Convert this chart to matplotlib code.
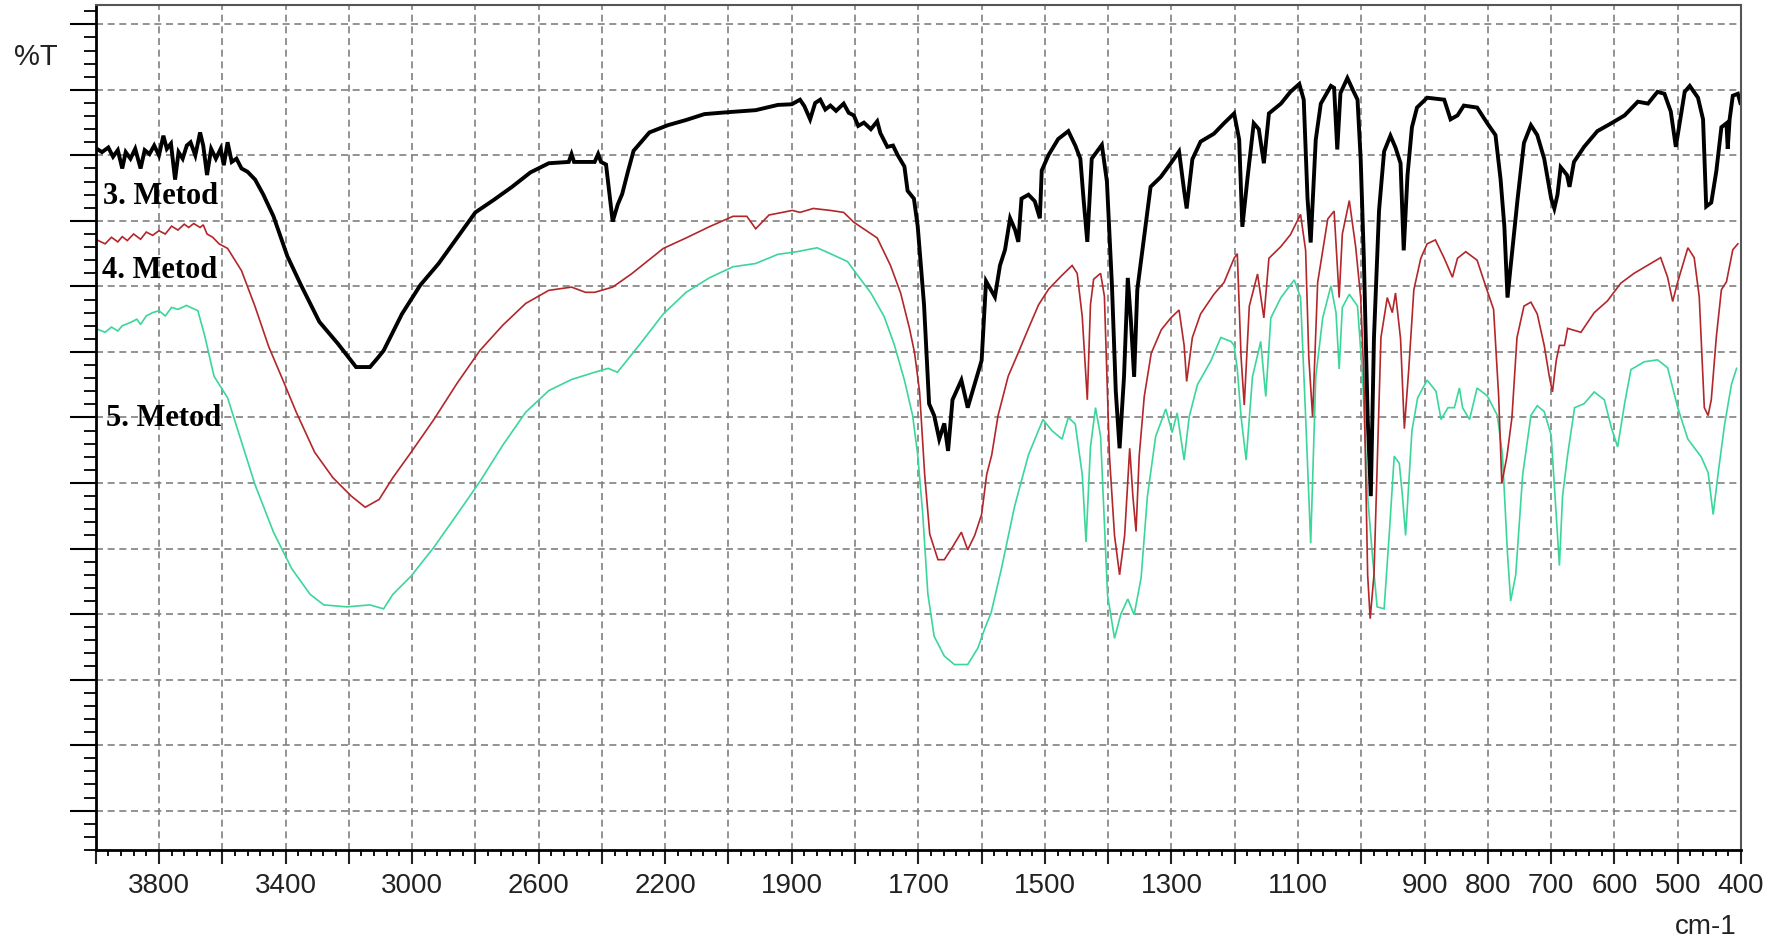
import numpy as np
import matplotlib
matplotlib.use("Agg")
import matplotlib.pyplot as plt
from matplotlib.ticker import FixedLocator

# IR spectra, (wavenumber cm-1, %T in grid units)
black_pts = [
    (3996, 101.0), (3980, 100.5), (3960, 101.2), (3945, 99.8), (3930, 100.8), (3916, 98.0),
    (3905, 100.5), (3890, 99.5), (3875, 101.0), (3858, 98.0), (3845, 100.8), (3830, 100.2),
    (3815, 101.5), (3800, 100.0), (3786, 103.0), (3775, 101.0), (3762, 101.8), (3749, 96.3),
    (3738, 100.5), (3725, 99.5), (3712, 101.5), (3700, 102.0), (3685, 100.0), (3670, 103.5),
    (3660, 101.5), (3648, 97.0), (3635, 101.0), (3620, 99.5), (3605, 101.0), (3595, 98.5),
    (3583, 102.0), (3570, 99.0), (3555, 99.5), (3539, 98.0), (3520, 97.5), (3496, 96.3),
    (3470, 94.0), (3438, 90.7), (3394, 84.6), (3351, 80.2), (3293, 74.6), (3235, 71.3),
    (3177, 67.7), (3133, 67.7), (3110, 69.0), (3090, 70.2), (3032, 75.8), (2974, 80.2),
    (2916, 83.5), (2858, 87.4), (2800, 91.3), (2742, 93.2), (2684, 95.2), (2626, 97.4),
    (2568, 98.8), (2505, 99.0), (2496, 100.2), (2488, 99.0), (2423, 99.0), (2412, 100.2),
    (2403, 99.0), (2387, 98.6), (2366, 89.9), (2350, 92.5), (2336, 94.1), (2318, 97.5),
    (2300, 100.7), (2250, 103.5), (2192, 104.6), (2134, 105.4), (2076, 106.3), (2000, 106.6),
    (1957, 106.9), (1922, 107.7), (1900, 107.8), (1887, 108.5), (1880, 107.5), (1871, 105.5),
    (1863, 108.0), (1855, 108.5), (1847, 107.0), (1839, 107.6), (1830, 106.8), (1818, 107.9),
    (1810, 106.5), (1802, 106.1), (1795, 104.5), (1786, 105.0), (1775, 104.0), (1765, 105.2),
    (1760, 103.4), (1749, 101.3), (1740, 101.5), (1733, 100.1), (1722, 98.3), (1717, 94.6),
    (1707, 93.4), (1701, 89.2), (1691, 77.2), (1683, 62.1), (1675, 60.3), (1667, 56.7),
    (1659, 59.1), (1653, 54.9), (1646, 62.7), (1632, 65.7), (1622, 61.5), (1611, 65.1),
    (1600, 68.7), (1593, 80.8), (1579, 78.4), (1571, 83.2), (1563, 85.6), (1555, 90.4),
    (1547, 88.6), (1542, 86.8), (1537, 93.4), (1526, 94.0), (1516, 93.0), (1508, 90.4),
    (1505, 97.7), (1494, 100.1), (1479, 102.5), (1463, 103.7), (1452, 101.5), (1444, 99.5),
    (1439, 93.4), (1433, 86.8), (1426, 99.5), (1410, 101.6), (1402, 96.0), (1394, 80.0),
    (1388, 64.0), (1382, 55.3), (1375, 66.2), (1369, 81.3), (1364, 74.6), (1359, 66.2),
    (1354, 79.5), (1346, 85.5), (1333, 95.2), (1317, 96.7), (1301, 98.8), (1288, 100.6),
    (1280, 94.6), (1276, 91.9), (1267, 99.4), (1254, 102.1), (1233, 103.3), (1217, 104.9),
    (1201, 106.4), (1193, 102.4), (1188, 89.1), (1180, 96.4), (1170, 104.9), (1162, 104.0),
    (1154, 98.8), (1146, 106.4), (1127, 107.9), (1112, 109.7), (1098, 110.9), (1091, 108.5),
    (1085, 93.4), (1080, 86.7), (1072, 102.4), (1064, 107.9), (1048, 110.6), (1043, 110.3),
    (1038, 100.9), (1033, 109.5), (1022, 111.8), (1012, 109.7), (1006, 108.5), (1001, 99.4),
    (996, 84.3), (990, 60.1), (985, 48.0), (980, 72.2), (972, 91.6), (964, 100.6),
    (954, 103.0), (946, 101.2), (938, 98.8), (933, 85.5), (927, 97.0), (920, 104.3),
    (912, 107.3), (896, 108.8), (869, 108.5), (859, 105.5), (848, 106.1), (838, 107.6),
    (817, 107.3), (801, 104.9), (788, 103.1), (780, 96.4), (774, 89.2), (769, 78.3),
    (764, 83.1), (753, 93.4), (743, 101.9), (732, 104.6), (722, 103.1), (711, 99.5),
    (700, 93.4), (695, 91.9), (690, 94.0), (685, 98.2), (675, 97.0), (671, 95.2),
    (664, 99.0), (648, 101.3), (627, 103.7), (605, 104.9), (584, 106.1), (563, 108.2),
    (547, 107.9), (532, 109.7), (521, 109.4), (511, 106.7), (503, 101.3), (497, 104.9),
    (489, 109.7), (481, 110.6), (468, 108.8), (460, 105.5), (455, 92.2), (447, 92.8),
    (439, 97.6), (431, 104.3), (423, 104.9), (421, 101.0), (418, 105.5), (413, 109.1),
    (405, 109.4), (401, 108.0),
]

red_pts = [
    (3996, 87.1), (3970, 86.5), (3950, 87.5), (3930, 86.8), (3916, 87.6), (3900, 87.0),
    (3880, 88.0), (3858, 87.2), (3840, 88.3), (3820, 87.8), (3800, 88.5), (3780, 88.0),
    (3760, 89.2), (3740, 88.6), (3720, 89.5), (3706, 89.0), (3690, 89.6), (3670, 89.0),
    (3660, 89.4), (3648, 88.0), (3630, 87.5), (3610, 86.5), (3583, 85.8), (3539, 82.4),
    (3496, 76.9), (3453, 70.8), (3409, 65.8), (3366, 60.8), (3308, 54.7), (3250, 50.8),
    (3192, 48.0), (3148, 46.3), (3104, 47.5), (3061, 50.8), (3003, 54.7), (2931, 59.7),
    (2858, 65.2), (2786, 70.2), (2713, 74.1), (2641, 77.4), (2568, 79.4), (2496, 79.9),
    (2452, 79.1), (2423, 79.1), (2366, 79.9), (2307, 81.9), (2206, 85.8), (2134, 87.4),
    (2061, 89.1), (1993, 90.7), (1971, 90.7), (1957, 88.8), (1936, 90.9), (1899, 91.6),
    (1887, 91.3), (1866, 91.9), (1839, 91.6), (1818, 91.3), (1802, 89.8), (1765, 87.4),
    (1744, 83.2), (1728, 79.0), (1714, 73.6), (1706, 69.9), (1698, 63.9), (1690, 51.3),
    (1682, 42.2), (1669, 38.3), (1659, 38.3), (1645, 40.4), (1632, 42.5), (1622, 39.8),
    (1611, 42.0), (1600, 45.2), (1592, 51.3), (1584, 54.3), (1574, 60.3), (1558, 66.3),
    (1542, 69.9), (1526, 73.6), (1510, 77.2), (1494, 79.6), (1473, 81.7), (1457, 83.2),
    (1449, 82.0), (1441, 75.4), (1433, 62.7), (1428, 77.2), (1423, 81.1), (1412, 82.0),
    (1406, 78.5), (1398, 54.1), (1390, 42.0), (1382, 36.0), (1374, 42.0), (1366, 55.3),
    (1361, 48.0), (1356, 42.6), (1351, 54.1), (1343, 63.2), (1332, 69.8), (1316, 73.4),
    (1301, 75.2), (1288, 76.4), (1280, 71.0), (1276, 65.5), (1267, 72.2), (1254, 75.8),
    (1233, 78.8), (1217, 80.6), (1201, 84.3), (1196, 85.0), (1190, 69.2), (1185, 61.9),
    (1177, 77.0), (1164, 81.9), (1154, 75.2), (1146, 84.3), (1127, 86.1), (1112, 87.9),
    (1096, 91.0), (1088, 85.5), (1083, 69.2), (1077, 60.1), (1069, 80.6), (1053, 90.3),
    (1043, 91.5), (1035, 78.3), (1030, 88.0), (1019, 93.1), (1009, 86.1), (1001, 78.3),
    (996, 66.2), (990, 36.0), (986, 29.3), (980, 36.0), (969, 72.2), (959, 78.3),
    (951, 76.0), (946, 79.0), (938, 72.0), (932, 58.3), (925, 67.4), (917, 79.5),
    (906, 84.3), (896, 86.5), (883, 87.1), (869, 84.3), (856, 81.4), (848, 84.3),
    (835, 85.3), (817, 84.0), (804, 80.2), (791, 76.5), (783, 63.3), (778, 50.0),
    (770, 54.0), (762, 60.0), (754, 72.2), (743, 77.0), (732, 77.6), (722, 75.8),
    (711, 71.0), (703, 66.3), (698, 63.9), (692, 68.7), (687, 71.0), (679, 71.0),
    (674, 73.6), (653, 73.0), (632, 76.0), (611, 77.8), (590, 80.5), (569, 82.0),
    (548, 83.2), (527, 84.4), (516, 81.4), (508, 77.7), (500, 80.7), (484, 85.9),
    (474, 84.4), (466, 78.4), (458, 61.5), (452, 60.3), (447, 62.7), (439, 72.3),
    (431, 79.5), (423, 80.7), (413, 85.6), (405, 86.5),
]

green_pts = [
    (3996, 73.5), (3970, 73.0), (3950, 73.8), (3930, 73.2), (3916, 74.0), (3890, 74.5),
    (3870, 75.0), (3858, 74.2), (3840, 75.5), (3820, 76.0), (3800, 76.3), (3780, 75.5),
    (3760, 76.8), (3740, 76.5), (3713, 77.1), (3700, 76.8), (3677, 76.3), (3655, 72.4),
    (3626, 66.3), (3583, 63.0), (3539, 56.3), (3496, 49.7), (3438, 42.5), (3380, 36.9),
    (3322, 33.0), (3279, 31.4), (3206, 31.1), (3133, 31.4), (3090, 30.8), (3061, 33.0),
    (3003, 35.8), (2931, 40.2), (2858, 45.2), (2786, 50.2), (2713, 55.8), (2641, 60.8),
    (2568, 64.1), (2496, 65.8), (2423, 66.9), (2380, 67.5), (2351, 66.9), (2278, 71.3),
    (2206, 75.8), (2134, 79.1), (2061, 81.3), (1993, 83.0), (1957, 83.5), (1922, 84.9),
    (1892, 85.3), (1860, 85.9), (1839, 85.0), (1812, 83.8), (1796, 81.7), (1775, 79.0),
    (1754, 75.4), (1738, 71.1), (1722, 65.7), (1709, 60.3), (1701, 54.3), (1693, 45.2),
    (1685, 33.1), (1675, 26.6), (1659, 23.6), (1643, 22.3), (1622, 22.3), (1606, 24.8),
    (1595, 27.8), (1585, 30.2), (1569, 36.8), (1548, 46.4), (1526, 54.3), (1503, 59.7),
    (1489, 58.0), (1473, 56.7), (1463, 60.0), (1452, 59.0), (1441, 51.3), (1435, 41.0),
    (1428, 55.5), (1420, 61.5), (1412, 57.1), (1401, 32.9), (1390, 26.3), (1380, 30.0),
    (1369, 32.3), (1359, 29.9), (1348, 35.5), (1338, 48.0), (1325, 57.1), (1309, 61.3),
    (1299, 57.7), (1291, 60.7), (1280, 53.5), (1272, 60.1), (1259, 65.0), (1238, 68.6),
    (1222, 72.2), (1206, 71.6), (1201, 71.0), (1196, 67.4), (1190, 60.1), (1182, 53.5),
    (1172, 66.2), (1159, 71.6), (1151, 63.2), (1143, 75.2), (1127, 78.3), (1106, 81.0),
    (1096, 78.3), (1088, 60.1), (1080, 40.8), (1072, 66.2), (1061, 75.2), (1048, 80.1),
    (1040, 76.0), (1035, 67.4), (1030, 76.8), (1019, 78.8), (1006, 77.0), (998, 66.2),
    (990, 48.0), (982, 38.4), (975, 31.1), (964, 30.8), (956, 42.0), (948, 54.1),
    (940, 53.0), (935, 48.0), (930, 42.0), (925, 50.0), (920, 58.0), (911, 63.0),
    (896, 65.7), (882, 64.0), (874, 59.7), (863, 61.5), (853, 61.5), (845, 64.5),
    (840, 61.5), (829, 59.7), (817, 64.5), (801, 63.3), (785, 60.3), (777, 54.3),
    (769, 39.2), (764, 32.0), (756, 36.0), (745, 51.3), (732, 60.3), (722, 61.8),
    (711, 60.9), (700, 57.3), (692, 45.2), (687, 37.4), (682, 48.0), (674, 54.3),
    (663, 61.5), (648, 62.1), (632, 63.9), (616, 62.7), (605, 58.5), (595, 55.5),
    (584, 62.1), (574, 67.3), (553, 68.5), (532, 68.8), (516, 67.6), (500, 61.5),
    (484, 56.7), (463, 54.0), (452, 51.6), (444, 45.2), (436, 51.6), (426, 58.9),
    (415, 65.1), (407, 67.5),
]

series_names = ["3. Metod", "4. Metod", "5. Metod"]
name_pos = [(3978, 93.9), (3981, 82.6), (3966, 60.0)]

major_ticks = [4000, 3800, 3600, 3400, 3200, 3000, 2800, 2600, 2400, 2200, 2000,
               1900, 1800, 1700, 1600, 1500, 1400, 1300, 1200, 1100, 1000,
               900, 800, 700, 600, 500, 400]
tick_labels = ["", "3800", "", "3400", "", "3000", "", "2600", "", "2200", "",
               "1900", "", "1700", "", "1500", "", "1300", "", "1100", "",
               "900", "800", "700", "600", "500", "400"]


# wavenumber axis: 4000-2000 squeezed to half scale
def fwd(w):
    w = np.asarray(w, dtype=float)
    return np.where(w > 2000, 2000 + (w - 2000) / 2.0, w)


def inv(p):
    p = np.asarray(p, dtype=float)
    return np.where(p > 2000, 2000 + (p - 2000) * 2.0, p)


sans = "Liberation Sans"

fig = plt.figure(figsize=(17.78, 9.45), dpi=100)
ax = fig.add_axes([0.0538, 0.0995, 0.9254, 0.8945])
ax.set_xscale("function", functions=(fwd, inv))

for pts, col, lw in [(green_pts, "#3bd69a", 1.2), (red_pts, "#b3262a", 1.2), (black_pts, "black", 2.8)]:
    wn, t = zip(*pts)
    ax.plot(wn, t, color=col, lw=lw, solid_joinstyle="miter")

ax.set_xlim(4000, 400)
ax.set_ylim(-6, 123)

ax.xaxis.set_major_locator(FixedLocator(major_ticks))
ax.set_xticklabels(tick_labels, family=sans, fontsize=20)
minor_x = [w for w in list(range(4000, 2000, -40)) + list(range(2000, 399, -20)) if w not in major_ticks]
ax.xaxis.set_minor_locator(FixedLocator(minor_x))
ax.yaxis.set_major_locator(FixedLocator(range(0, 121, 10)))
ax.yaxis.set_minor_locator(FixedLocator(range(-6, 123, 2)))
ax.set_yticklabels([])

ax.tick_params(axis="x", which="major", direction="out", length=10, width=1.5, pad=6, colors="#222222")
ax.tick_params(axis="x", which="minor", direction="out", length=4.5, width=1.3)
ax.tick_params(axis="y", which="major", direction="out", length=19, width=1.5)
ax.tick_params(axis="y", which="minor", direction="out", length=8.5, width=1.3)

ax.grid(True, which="major", color="#808080", lw=1.2, linestyle=(0, (4.2, 2.8)))
ax.set_axisbelow(True)

for s in ["left", "bottom"]:
    ax.spines[s].set_linewidth(2.0)
    ax.spines[s].set_color("black")
for s in ["top", "right"]:
    ax.spines[s].set_linewidth(1.5)
    ax.spines[s].set_color("#555555")

for name, (x, y) in zip(series_names, name_pos):
    ax.text(x, y, name, family="Liberation Serif", weight="bold", fontsize=22,
            ha="left", va="center", zorder=5)

fig.text(36 / 1778, 1 - 57 / 945, "%T", family=sans, fontsize=21, ha="center", va="center", color="#222222")
fig.text(1737 / 1778, 1 - 927 / 945, "cm-1", family=sans, fontsize=20, ha="right", va="center", color="#222222")

fig.savefig("out.png", dpi=100)
